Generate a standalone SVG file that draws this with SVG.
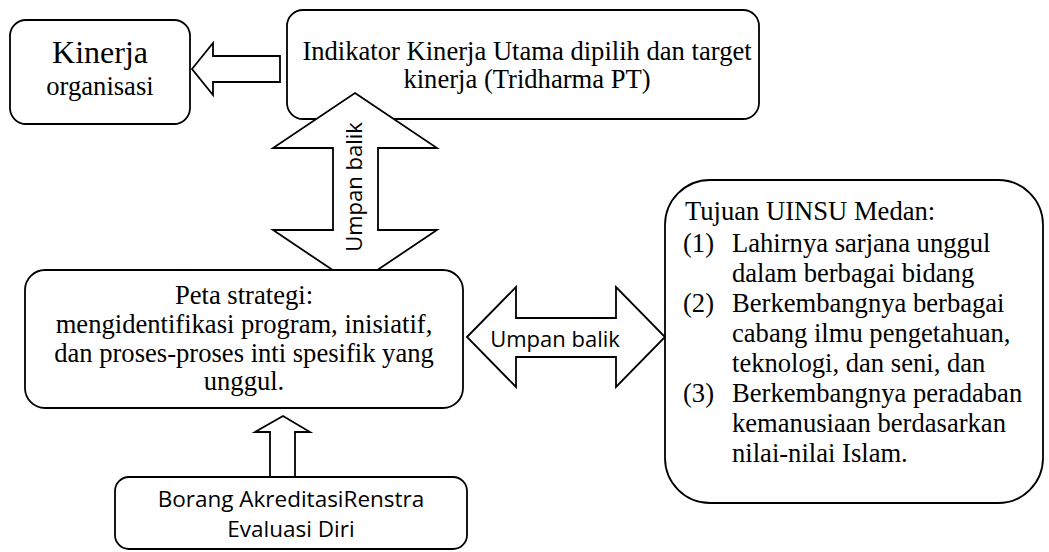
<svg xmlns="http://www.w3.org/2000/svg" width="1049" height="552" viewBox="0 0 1049 552">
<style>
.box{fill:#fff;stroke:#000;stroke-width:1.8}
.arr{fill:#fff;stroke:#000;stroke-width:1.8;stroke-linejoin:miter}
.t{font-family:'Liberation Serif',Tinos,'Times New Roman',serif;font-size:26.6px;fill:#000}
.k{font-size:32px}
.s{font-family:'Open Sans','Noto Sans',sans-serif;font-size:22px;fill:#000}
.b{font-size:22.5px}
</style>
<rect width="1049" height="552" fill="#fff"/>
<g id="kinerja">
<rect class="box" x="10" y="20" width="180" height="104" rx="16"/>
<text class="t k" x="100" y="63" text-anchor="middle">Kinerja</text>
<text class="t" x="100" y="95" text-anchor="middle">organisasi</text>
</g>
<g id="indikator">
<rect class="box" x="287" y="10" width="472" height="109" rx="16"/>
<text class="t" x="527" y="60" text-anchor="middle">Indikator Kinerja Utama dipilih dan target</text>
<text class="t" x="527" y="88" text-anchor="middle">kinerja (Tridharma PT)</text>
</g>
<g id="connectors">
<polygon class="arr" points="192,69 213,43 213,56 280,56 280,82 213,82 213,95"/>
<polygon class="arr" points="355,93 437,148 378,148 378,230 437,230 355,285 273,230 333,230 333,148 273,148"/>
<text class="s" transform="translate(362,187) rotate(-90)" x="0" y="0" text-anchor="middle">Umpan balik</text>
<polygon class="arr" points="467,337 516,287 516,318 616,318 616,287 665,337 616,387 616,357 516,357 516,387"/>
<text class="s" x="555" y="347" text-anchor="middle">Umpan balik</text>
<polygon class="arr" points="283,416 310,432 295,432 295,477 270,477 270,432 255,432"/>
</g>
<g id="peta">
<rect class="box" x="25" y="270" width="438" height="138" rx="20"/>
<text class="t" x="244" y="304" text-anchor="middle">Peta strategi:</text>
<text class="t" x="244" y="333" text-anchor="middle">mengidentifikasi program, inisiatif,</text>
<text class="t" x="244" y="362" text-anchor="middle">dan proses-proses inti spesifik yang</text>
<text class="t" x="244" y="390" text-anchor="middle">unggul.</text>
</g>
<g id="tujuan">
<rect class="box" x="665" y="180" width="378" height="323" rx="45"/>
<text class="t" x="685" y="220">Tujuan UINSU Medan:</text>
<text class="t" x="683" y="252">(1)</text>
<text class="t" x="732" y="252">Lahirnya sarjana unggul</text>
<text class="t" x="732" y="282">dalam berbagai bidang</text>
<text class="t" x="683" y="312">(2)</text>
<text class="t" x="732" y="312">Berkembangnya berbagai</text>
<text class="t" x="732" y="342">cabang ilmu pengetahuan,</text>
<text class="t" x="732" y="372">teknologi, dan seni, dan</text>
<text class="t" x="683" y="402">(3)</text>
<text class="t" x="732" y="402">Berkembangnya peradaban</text>
<text class="t" x="732" y="432">kemanusiaan berdasarkan</text>
<text class="t" x="732" y="462">nilai-nilai Islam.</text>
</g>
<g id="borang">
<rect class="box" x="115" y="477" width="352" height="72" rx="14"/>
<text class="s b" x="291" y="507" text-anchor="middle">Borang AkreditasiRenstra</text>
<text class="s b" x="291" y="537" text-anchor="middle">Evaluasi Diri</text>
</g>
</svg>
